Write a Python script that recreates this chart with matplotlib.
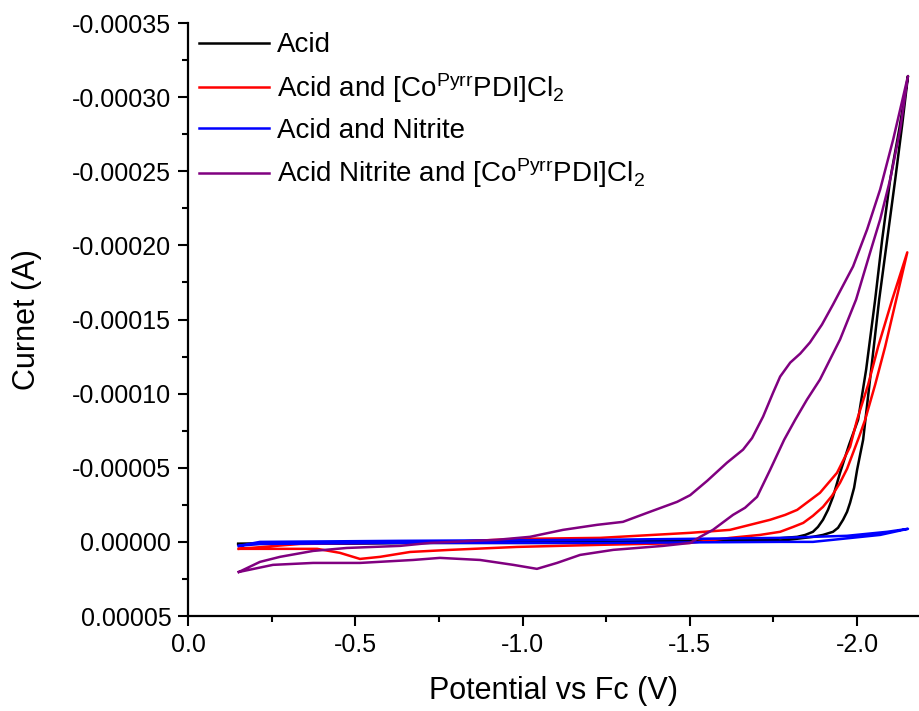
import numpy as np
import matplotlib
matplotlib.use('Agg')
import matplotlib.pyplot as plt
from matplotlib.ticker import FormatStrFormatter, MultipleLocator

plt.rcParams['font.family'] = ['Liberation Sans', 'DejaVu Sans']
plt.rcParams['mathtext.fontset'] = 'custom'
plt.rcParams['mathtext.rm'] = 'Liberation Sans'
plt.rcParams['mathtext.it'] = 'Liberation Sans:italic'

# potential (V vs Fc) and current (uA)
# each loop: forward sweep then return sweep
acid_v = [-0.150, -0.633, -1.232, -1.770, -1.868, -1.898, -1.928, -1.943, -1.958, -1.970, -1.979, -1.991,
          -2.000, -2.009, -2.018, -2.042, -2.066, -2.090, -2.114, -2.135, -2.152,
          -2.126, -2.099, -2.075, -2.054, -2.027, -2.003, -1.976, -1.949, -1.928, -1.913, -1.898,
          -1.883, -1.868, -1.845, -1.821, -1.710, -1.232, -0.633, -0.150]
acid_i = [1.4, 0.7, 0.7, -0.7, -3.4, -4.7, -6.8, -9.5, -14.9, -20.3, -26.4, -36.5,
          -48.6, -58.8, -68.9, -116.2, -163.5, -204.1, -244.6, -281.8, -314.2,
          -278.4, -244.6, -204.1, -163.5, -116.2, -82.4, -65.5, -46.6, -30.4, -21.6, -14.9,
          -10.1, -6.8, -4.7, -3.4, -1.4, 0.0, 0.7, 1.4]

co_v = [-0.152, -0.386, -0.454, -0.514, -0.574, -0.664, -0.783, -0.984, -1.232, -1.501, -1.620, -1.710,
        -1.770, -1.809, -1.839, -1.868, -1.898, -1.925, -1.949, -1.970, -1.988, -2.006, -2.024, -2.054,
        -2.084, -2.117, -2.150,
        -2.105, -2.063, -2.033, -2.000, -1.979, -1.940, -1.889, -1.821, -1.785, -1.740, -1.620, -1.501,
        -1.232, -0.984, -0.783, -0.335, -0.152]
co_i = [4.7, 4.7, 7.4, 11.5, 10.1, 6.8, 5.4, 3.4, 2.0, 0.7, -2.7, -4.7,
        -6.8, -10.1, -12.8, -17.6, -23.6, -31.1, -39.9, -49.3, -60.1, -70.9, -82.4, -106.1,
        -131.8, -163.5, -195.3,
        -163.5, -131.8, -106.1, -82.4, -64.2, -46.6, -33.1, -21.6, -18.2, -14.9, -8.1, -6.1,
        -2.7, -2.0, 0.0, 1.4, 4.7]

nitrite_v = [-0.152, -0.215, -0.634, -1.232, -1.770, -1.868, -2.069, -2.152,
             -2.090, -1.970, -1.770, -1.232, -0.634, -0.215, -0.152]
nitrite_i = [2.7, 1.4, 0.7, 0.7, 0.0, 0.0, -4.7, -8.8,
             -6.8, -4.1, -2.7, -1.4, -0.7, 0.0, 2.7]

both_v = [-0.152, -0.215, -0.275, -0.374, -0.475, -0.634, -0.723, -0.924, -1.022, -1.121, -1.223, -1.300,
          -1.381, -1.462, -1.501, -1.552, -1.611, -1.659, -1.686, -1.719, -1.749, -1.770, -1.800, -1.830,
          -1.859, -1.895, -1.928, -1.988, -2.030, -2.069, -2.108, -2.152,
          -2.129, -2.099, -2.069, -2.039, -1.997, -1.949, -1.889, -1.850, -1.815, -1.782, -1.740, -1.701,
          -1.665, -1.629, -1.569, -1.531, -1.501, -1.420, -1.271, -1.172, -1.103, -1.043, -0.972, -0.873,
          -0.753, -0.673, -0.514, -0.374, -0.254, -0.152]
both_i = [20.3, 13.5, 10.1, 6.1, 4.1, 2.7, 0.7, -1.4, -3.4, -8.1, -11.5, -13.5,
          -20.3, -27.0, -31.5, -41.2, -53.4, -62.2, -70.0, -84.5, -100.7, -111.5, -120.9, -127.0,
          -134.5, -146.6, -160.1, -185.8, -210.8, -237.8, -271.6, -314.2,
          -278.4, -244.6, -217.6, -195.3, -163.5, -136.5, -109.5, -95.9, -82.4, -68.9, -48.6, -30.4,
          -23.0, -18.2, -8.1, -3.4, 0.7, 2.7, 5.4, 8.8, 14.2, 18.2, 15.5, 12.2,
          10.8, 12.2, 14.2, 14.2, 15.5, 20.3]

labels = ['Acid',
          r'Acid and [Co$^{\mathrm{Pyrr}}$PDI]Cl$_2$',
          'Acid and Nitrite',
          r'Acid Nitrite and [Co$^{\mathrm{Pyrr}}$PDI]Cl$_2$']
colors = ['black', '#ff0000', '#0000ff', '#800080']

fig = plt.figure(figsize=(9.19, 7.11), dpi=100)
ax = fig.add_axes([188/919., 95/711., 731/919., 593/711.])

series = [(acid_v, acid_i), (co_v, co_i), (nitrite_v, nitrite_i), (both_v, both_i)]
lines = []
for (v, i), c, lab in zip(series, colors, labels):
    ln, = ax.plot(v, np.array(i)*1e-6, color=c, lw=1.8, label=lab)
    lines.append(ln)

ax.set_xlim(0, -2.185)
ax.set_ylim(0.00005, -0.00035)
ax.xaxis.set_major_locator(MultipleLocator(0.5))
ax.xaxis.set_minor_locator(MultipleLocator(0.25))
ax.yaxis.set_major_locator(MultipleLocator(0.00005))
ax.yaxis.set_minor_locator(MultipleLocator(0.000025))
ax.xaxis.set_major_formatter(FormatStrFormatter('%.1f'))
ax.yaxis.set_major_formatter(FormatStrFormatter('%.5f'))

for s in ['top', 'right']:
    ax.spines[s].set_visible(False)
for s in ['left', 'bottom']:
    ax.spines[s].set_linewidth(1.6)
ax.tick_params(which='major', direction='out', length=7, width=1.5, labelsize=18, pad=5)
ax.tick_params(which='minor', direction='out', length=4, width=1.5)

ax.set_xlabel('Potential vs Fc (V)', fontsize=22, labelpad=14)
ax.set_ylabel('Curnet (A)', fontsize=22, labelpad=22)

ax.legend(lines, labels, loc='upper left', bbox_to_anchor=(0.0, 1.003), frameon=False,
          fontsize=20, handlelength=2.5, handletextpad=0.3, labelspacing=0.46, borderaxespad=0.0)

plt.savefig('out.png', dpi=100)
